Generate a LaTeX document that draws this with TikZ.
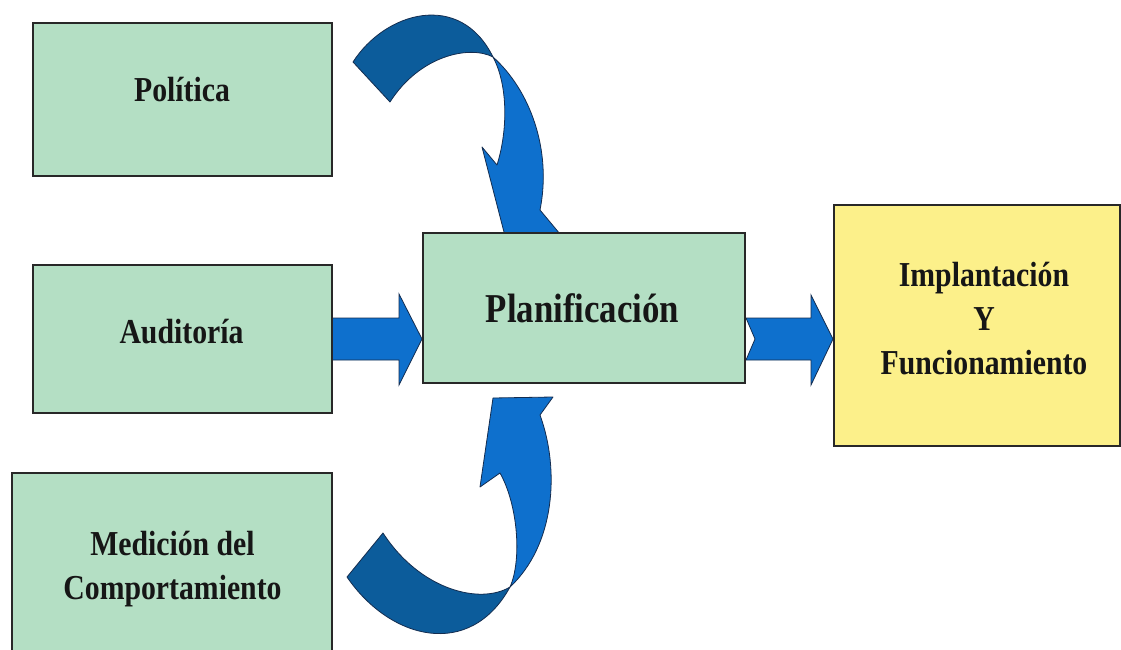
\documentclass[tikz,border=0pt]{standalone}
\usepackage{fontspec}
\setmainfont{Liberation Serif}[FakeStretch=0.85]
\usetikzlibrary{calc}
\definecolor{boxgreen}{RGB}{180,223,196}
\definecolor{boxyellow}{RGB}{252,240,138}
\definecolor{edgegray}{RGB}{40,40,40}
\definecolor{arrowblue}{RGB}{14,112,205}
\definecolor{arrowdark}{RGB}{12,92,155}
\definecolor{arrowedge}{RGB}{20,45,80}
\definecolor{inktext}{RGB}{22,22,22}
\pgfdeclarelayer{background}
\pgfsetlayers{background,main}

\begin{document}
\begin{tikzpicture}[x=1pt,y=-1pt,
  stagebox/.style={draw=edgegray, line width=2pt, rectangle, inner sep=0pt},
  greenbox/.style={stagebox, fill=boxgreen},
  yellowbox/.style={stagebox, fill=boxyellow},
  boxlabel/.style={text=inktext, font=\bfseries\fontsize{35}{44}\selectfont, align=center, inner sep=0pt},
  biglabel/.style={boxlabel, font=\bfseries\fontsize{41}{48}\selectfont},
  bandback/.style={fill=arrowdark, draw=arrowedge, line width=0.8pt, line join=round},
  bandfront/.style={fill=arrowblue, draw=arrowedge, line width=0.8pt, line join=round},
  blockarrow/.style={fill=arrowblue, draw=arrowedge, line width=0.8pt, line join=miter},
]
\useasboundingbox (0,0) rectangle (1121,650);
\clip (0,0) rectangle (1121,650);

% stage boxes
\node[greenbox, minimum width=299pt, minimum height=153pt] (pol) at (182.5,99.5) {};
\node[greenbox, minimum width=299pt, minimum height=148pt] (aud) at (182.5,339) {};
\node[greenbox, minimum width=320pt, minimum height=192pt] (med) at (172,569) {};
\node[greenbox, minimum width=322pt, minimum height=150pt] (plan) at (584,308) {};
\node[yellowbox, minimum width=286pt, minimum height=241pt] (impl) at (977,325.5) {};

% box texts
\node[boxlabel, anchor=base] (pol-t) at (182,102) {Política};
\node[boxlabel, anchor=base] (aud-t) at (181.5,343) {Auditoría};
\node[boxlabel] (med-t) at (172.5,569.5) {Medición del\\Comportamiento};
\node[biglabel, anchor=base] (plan-t) at (582.5,322) {Planificación};
\node[boxlabel] (impl-t) at (984,319) {Implantación\\Y\\Funcionamiento};

\begin{pgfonlayer}{background}
  \fill[white] (0,0) rectangle (1121,650);

  % curved arrow from Política down into Planificación
  \draw[bandback] (353,62) .. controls (385,12) and (460,-10) .. (493,57)
        .. controls (470,45) and (420,55) .. (390,102) -- cycle;
  \draw[bandfront] (493,57) .. controls (530,90) and (552,150) .. (540,210)
        -- (560,234) -- (504.5,234) -- (482,147) -- (497,165)
        .. controls (508,130) and (508,85) .. (493,57) -- cycle;

  % curved arrow from Medición up into Planificación
  \draw[bandback] (347,577) .. controls (390,640) and (470,660) .. (510,587)
        .. controls (480,605) and (420,590) .. (383,533) -- cycle;
  \draw[bandfront] (510,587) .. controls (555,545) and (560,470) .. (540,415)
        -- (553,397) -- (493,398) -- (480,487) -- (500,473)
        .. controls (518,505) and (522,560) .. (510,587) -- cycle;

  % block arrow Auditoría -> Planificación
  \coordinate (in-tip) at (plan.west |- aud.east);
  \draw[blockarrow] ($(aud.east)+(-6,-21)$) -- ($(in-tip)+(-23,-21)$)
        -- ($(in-tip)+(-23,-45)$) -- (in-tip) -- ($(in-tip)+(-23,46)$)
        -- ($(in-tip)+(-23,21)$) -- ($(aud.east)+(-6,21)$) -- cycle;

  % notched block arrow Planificación -> Implantación
  \coordinate (out-tail) at (plan.east |- aud.east);
  \coordinate (out-tip) at (impl.west |- aud.east);
  \draw[blockarrow] ($(out-tail)+(0,-21)$) -- ($(out-tip)+(-22,-21)$)
        -- ($(out-tip)+(-22,-44)$) -- (out-tip) -- ($(out-tip)+(-22,46)$)
        -- ($(out-tip)+(-22,21)$) -- ($(out-tail)+(0,21)$)
        -- ($(out-tail)+(9,0)$) -- cycle;
\end{pgfonlayer}
\end{tikzpicture}
\end{document}
